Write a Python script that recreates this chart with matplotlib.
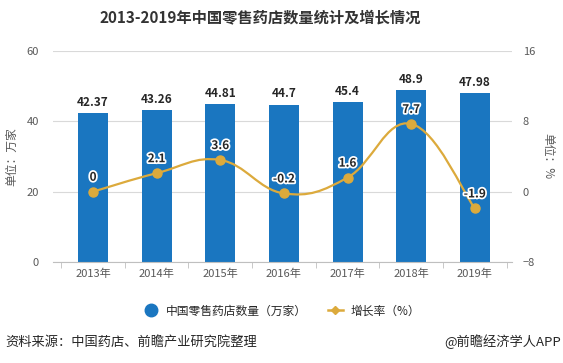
import matplotlib
matplotlib.use('Agg')
import matplotlib.pyplot as plt
import matplotlib.patheffects as pe
from matplotlib.path import Path
from matplotlib.patches import PathPatch
from matplotlib.lines import Line2D
import numpy as np

plt.rcParams['font.family'] = ['Noto Sans CJK SC', 'DejaVu Sans']

years = ['2013年', '2014年', '2015年', '2016年', '2017年', '2018年', '2019年']
stores = [42.37, 43.26, 44.81, 44.7, 45.4, 48.9, 47.98]
growth = [0, 2.1, 3.6, -0.2, 1.6, 7.7, -1.9]

bar_color = '#1a76c0'
line_color = '#dcaa3c'
grey = '#595959'
dark = '#262626'


def smooth_path(xs, ys, k=0.2):
    # cubic bezier through the points (catmull-rom style control points)
    pts = np.column_stack([xs, ys]).astype(float)
    verts = [pts[0]]
    codes = [Path.MOVETO]
    n = len(pts)
    for i in range(n - 1):
        p0 = pts[max(i - 1, 0)]
        p1 = pts[i]
        p2 = pts[i + 1]
        p3 = pts[min(i + 2, n - 1)]
        c1 = p1 + (p2 - p0) * k
        c2 = p2 - (p3 - p1) * k
        verts += [c1, c2, p2]
        codes += [Path.CURVE4] * 3
    return Path(verts, codes)


fig = plt.figure(figsize=(5.63, 3.63), dpi=100)
ax = fig.add_axes([0.094, 0.278, 0.815, 0.582])
x = np.arange(len(years))
bars = ax.bar(x, stores, width=0.47, color=bar_color, zorder=2)
ax.set_ylim(0, 60)
ax.set_yticks([0, 20, 40, 60])
ax.set_xlim(-0.63, 6.58)
ax.set_xticks(x)
ax.set_xticklabels(years)
ax.set_xticks(np.arange(-0.5, 6.6, 1), minor=True)
ax.tick_params(axis='x', which='major', length=0, labelsize=8, colors=grey, pad=5)
ax.tick_params(axis='x', which='minor', length=4, color='#bfbfbf')
ax.tick_params(axis='y', length=0, labelsize=8, colors=grey, pad=10)
ax.grid(axis='y', color='#d9d9d9', linewidth=0.8, zorder=0)
for s in ['top', 'right', 'left']:
    ax.spines[s].set_visible(False)
ax.spines['bottom'].set_color('#bfbfbf')
ax.set_ylabel('单位：万家', fontsize=8.5, color=grey, labelpad=6)

for b, v in zip(bars, stores):
    ax.text(b.get_x() + b.get_width() / 2, v + 1.2, f'{v:g}', ha='center', va='bottom',
            fontsize=8.5, fontweight='bold', color=dark)

ax2 = ax.twinx()
ax2.add_patch(PathPatch(smooth_path(x, growth), facecolor='none', edgecolor=line_color,
                        linewidth=1.6, zorder=3))
ax2.plot(x, growth, linestyle='none', marker='o', markersize=6.5, color=line_color, zorder=4)
ax2.set_ylim(-8, 16)
ax2.set_yticks([-8, 0, 8, 16])
ax2.tick_params(axis='y', length=0, labelsize=8, colors=grey, pad=8)
for s in ax2.spines.values():
    s.set_visible(False)
ax2.set_ylabel('单位：%', fontsize=8.5, color=grey, rotation=-90, labelpad=14)

for xi, g in zip(x, growth):
    t = ax2.text(xi, g + 0.9, f'{g:g}', ha='center', va='bottom', fontsize=8.5,
                 fontweight='bold', color=dark)
    t.set_path_effects([pe.withStroke(linewidth=2.5, foreground='white')])

fig.text(0.463, 0.953, '2013-2019年中国零售药店数量统计及增长情况', ha='center', va='center',
         fontsize=11, fontweight='bold', color='#333333')

handles = [Line2D([], [], marker='o', color='none', markerfacecolor=bar_color,
                  markeredgecolor=bar_color, markersize=9),
           Line2D([], [], marker='D', color=line_color, markersize=4, linewidth=1.8)]
fig.legend(handles, ['中国零售药店数量（万家）', '增长率（%）'], loc='center',
           bbox_to_anchor=(0.5, 0.143), ncol=2, frameon=False, fontsize=8.5,
           handlelength=1.3, handletextpad=0.6, columnspacing=1.8, labelcolor=dark)

fig.text(0.009, 0.058, '资料来源：中国药店、前瞻产业研究院整理', ha='left', va='center',
         fontsize=9.5, color=dark)
fig.text(0.997, 0.058, '@前瞻经济学人APP', ha='right', va='center',
         fontsize=9.5, color=dark)

fig.savefig('out.png', dpi=100)
